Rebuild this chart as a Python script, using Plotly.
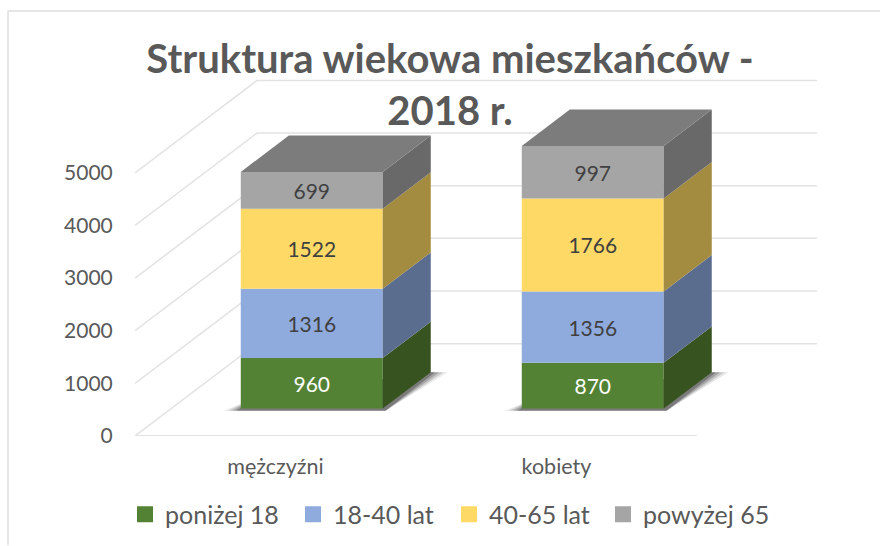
import plotly.graph_objects as go

categories = ["mężczyźni", "kobiety"]
series_names = ["poniżej 18", "18-40 lat", "40-65 lat", "powyżej 65"]
ponizej_18 = [960, 870]
lat_18_40 = [1316, 1356]
lat_40_65 = [1522, 1766]
powyzej_65 = [699, 997]
series_values = [ponizej_18, lat_18_40, lat_40_65, powyzej_65]
y_ticks = [0, 1000, 2000, 3000, 4000, 5000]

front_colors = ["#548235", "#8FAADC", "#FFD966", "#A5A5A5"]
side_colors = ["#375320", "#5B6D8F", "#A38B40", "#696969"]
top_color = "#7C7C7C"
text_colors = ["#FFFFFF", "#404040", "#404040", "#404040"]
grid_color = "#E2E2E2"
FONT = "Lato"

# Page layout in pixels
W, H = 880, 546
L, R, T, B = 135, 817, 70, 436.5
PX_PER_UNIT = 0.0527
PX_PER_CAT = 281
ymax = (B - T) / PX_PER_UNIT
xmax = (R - L) / PX_PER_CAT
DEPTH_X = 122 / PX_PER_CAT       # oblique depth of the floor, x-axis units
DEPTH_Y = 92.5 / PX_PER_UNIT     # oblique depth of the floor, y-axis units
BAR_START, BAR_DEPTH = 0.297, 0.394
BAR_W = 0.505
dx0, dy0 = BAR_START * DEPTH_X, BAR_START * DEPTH_Y
dx1, dy1 = BAR_DEPTH * DEPTH_X, BAR_DEPTH * DEPTH_Y


def px(x):
    return (x - L) / (R - L)


def py(y):
    return (B - y) / (B - T)


def path(points, close=True):
    s = "M" + " L".join(f"{x},{y}" for x, y in points)
    return s + (" Z" if close else "")


fig = go.Figure()
shapes = []

# Frame
shapes.append(dict(type="line", xref="paper", yref="paper", x0=px(8), x1=px(880), y0=py(11), y1=py(11),
                   line=dict(color="#DEDEDE", width=1.5), layer="below"))
shapes.append(dict(type="line", xref="paper", yref="paper", x0=px(8), x1=px(8), y0=py(11), y1=py(546),
                   line=dict(color="#DEDEDE", width=1.5), layer="below"))

# Back wall and side wall gridlines
for t in y_ticks:
    pts = [(0, t), (DEPTH_X, t + DEPTH_Y), (xmax, t + DEPTH_Y)]
    shapes.append(dict(type="path", path=path(pts, False), line=dict(color=grid_color, width=1.5), layer="below"))
shapes.append(dict(type="line", x0=0, x1=2, y0=0, y1=0, line=dict(color=grid_color, width=2), layer="below"))

# Soft floor shadows
for i in range(len(categories)):
    c = i + 0.5 + dx0
    for grow, op in ((0.060, 0.10), (0.045, 0.16), (0.030, 0.22), (0.015, 0.30)):
        xl, xr = c - BAR_W / 2, c + BAR_W / 2
        g = grow
        pts = [
            (xl - g, dy0 - 40),
            (xr + 0.01, dy0 - 40),
            (xr + dx1 + g, dy0 + dy1),
            (xr + dx1, dy0 + dy1),
            (xl + 0.05, dy0 + 200),
        ]
        shapes.append(dict(type="path", path=path(pts), fillcolor=f"rgba(30,30,30,{op})",
                           line=dict(width=0), layer="below"))

# Front faces
x_pos = [i + 0.5 + dx0 for i in range(len(categories))]
cum = [dy0 for _ in categories]
bases = []
for s, vals in enumerate(series_values):
    bases.append(list(cum))
    fig.add_trace(go.Bar(
        x=x_pos, y=vals, base=list(cum), width=BAR_W, name=series_names[s],
        marker=dict(color=front_colors[s], line=dict(width=0)),
        text=[str(v) for v in vals], textposition="inside", insidetextanchor="middle",
        textangle=0, constraintext="none",
        textfont=dict(family=FONT, size=21, color=text_colors[s]),
        showlegend=False, cliponaxis=False,
    ))
    cum = [a + b for a, b in zip(cum, vals)]

# Side faces and tops
for i, xc in enumerate(x_pos):
    xr = xc + BAR_W / 2
    xl = xc - BAR_W / 2
    for s, vals in enumerate(series_values):
        b0 = bases[s][i]
        b1 = b0 + vals[i]
        fig.add_trace(go.Scatter(
            x=[xr, xr + dx1, xr + dx1, xr, xr], y=[b0, b0 + dy1, b1 + dy1, b1, b0],
            mode="lines", fill="toself", fillcolor=side_colors[s], line=dict(width=0),
            showlegend=False, hoverinfo="skip", cliponaxis=False,
        ))
    top = cum[i]
    fig.add_trace(go.Scatter(
        x=[xl, xr, xr + dx1, xl + dx1, xl], y=[top, top, top + dy1, top + dy1, top],
        mode="lines", fill="toself", fillcolor=top_color, line=dict(width=0),
        showlegend=False, hoverinfo="skip", cliponaxis=False,
    ))

# Legend entries, one legend per entry to hold their exact places
legend_left = [125, 293, 449, 603]
legend_ids = ["legend", "legend2", "legend3", "legend4"]
legends = {}
for s, name in enumerate(series_names):
    fig.add_trace(go.Scatter(
        x=[None], y=[None], mode="markers", name=name, showlegend=True, legend=legend_ids[s],
        marker=dict(symbol="square", size=16, color=front_colors[s]),
    ))
    legends[legend_ids[s]] = dict(
        x=px(legend_left[s]), xanchor="left", y=py(515), yanchor="middle", orientation="h",
        bgcolor="rgba(0,0,0,0)", font=dict(family=FONT, size=25, color="#595959"),
        itemsizing="trace",
    )

fig.update_layout(
    width=W, height=H,
    margin=dict(l=L, r=W - R, t=T, b=H - B, pad=0, autoexpand=False),
    paper_bgcolor="white", plot_bgcolor="rgba(0,0,0,0)",
    barmode="overlay", shapes=shapes,
    title=dict(
        text="Struktura wiekowa mieszkańców -<br>2018 r.",
        x=450 / W, xanchor="center", xref="container", y=1 - 73 / H, yanchor="top",
        font=dict(family=FONT, size=40, color="#595959", weight="bold"),
    ),
    xaxis=dict(
        range=[0, xmax], showgrid=False, zeroline=False, showline=False,
        tickmode="array", tickvals=[i + 0.5 for i in range(len(categories))], ticktext=categories,
        ticks="outside", ticklen=11, tickcolor="rgba(0,0,0,0)",
        tickfont=dict(family=FONT, size=21.5, color="#595959"),
    ),
    yaxis=dict(
        range=[0, ymax], showgrid=False, zeroline=False, showline=False,
        tickmode="array", tickvals=y_ticks, ticks="outside", ticklen=17, tickcolor="rgba(0,0,0,0)",
        tickfont=dict(family=FONT, size=21, color="#595959"),
    ),
    **legends,
)

fig.write_html("out.html", config=dict(displayModeBar=False),
               post_script="document.body.style.margin='0';document.body.style.overflow='hidden';")
